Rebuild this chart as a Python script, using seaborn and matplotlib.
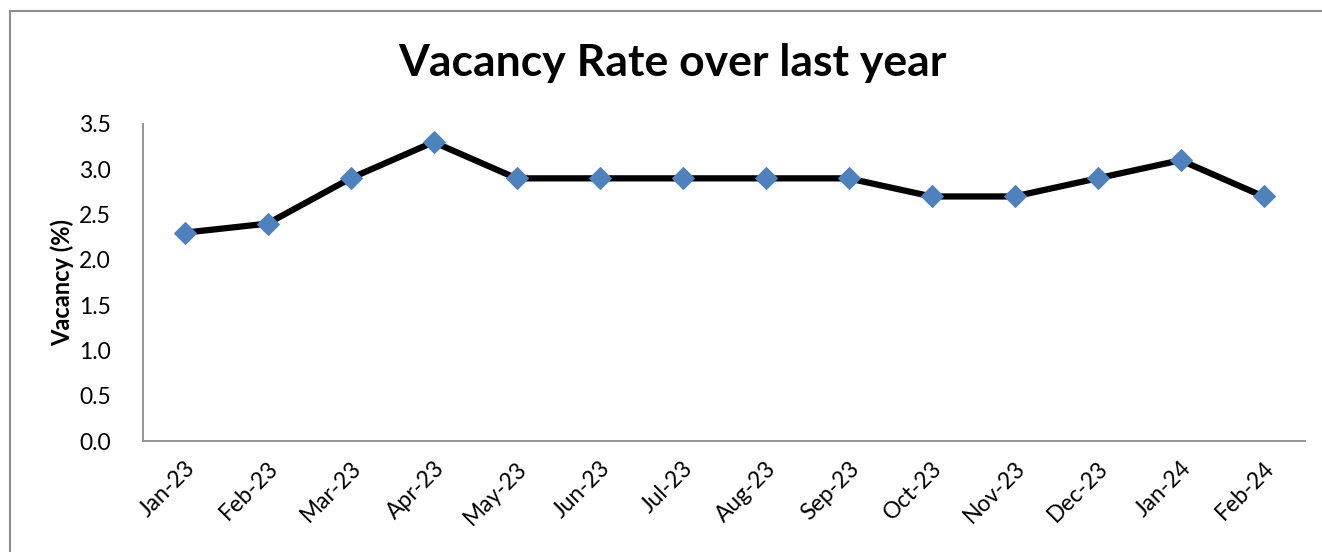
import matplotlib
matplotlib.use("Agg")
import matplotlib.pyplot as plt
import seaborn as sns
import pandas as pd
from matplotlib.patches import Rectangle

months = ["Jan-23", "Feb-23", "Mar-23", "Apr-23", "May-23", "Jun-23", "Jul-23",
          "Aug-23", "Sep-23", "Oct-23", "Nov-23", "Dec-23", "Jan-24", "Feb-24"]
vacancy = [2.3, 2.4, 2.9, 3.3, 2.9, 2.9, 2.9, 2.9, 2.9, 2.7, 2.7, 2.9, 3.1, 2.7]

df = pd.DataFrame({"Month": months, "Vacancy": vacancy})

sns.set_style("white")
plt.rcParams['font.family'] = ['Lato', 'DejaVu Sans']
plt.rcParams['text.color'] = 'black'
plt.rcParams['xtick.color'] = 'black'
plt.rcParams['ytick.color'] = 'black'
plt.rcParams['axes.labelcolor'] = 'black'

fig = plt.figure(figsize=(13.22, 5.52), dpi=100)
ax = fig.add_axes([143 / 1322, 1 - 441 / 552, (1305 - 143) / 1322, (441 - 124) / 552])

sns.lineplot(data=df, x="Month", y="Vacancy", ax=ax, color="black", linewidth=4.5,
             marker="D", markersize=11, markerfacecolor="#4F81BD",
             markeredgecolor="#4F81BD", sort=False)

ax.set_xlim(-0.5, len(months) - 0.5)
ax.set_ylim(0, 3.5)
ax.set_yticks([0, 0.5, 1.0, 1.5, 2.0, 2.5, 3.0, 3.5])
ax.set_yticklabels([f"{v:.1f}" for v in ax.get_yticks()], fontsize=16.5)
ax.set_xticks(range(len(months)))
ax.set_xticklabels(months, rotation=45, ha="right", rotation_mode="anchor", fontsize=16.5)
ax.tick_params(axis="y", length=0, pad=23)
ax.tick_params(axis="x", length=0, pad=12)

for side in ["top", "right"]:
    ax.spines[side].set_visible(False)
for side in ["left", "bottom"]:
    ax.spines[side].set_color("#8c8c8c")
    ax.spines[side].set_linewidth(1.3)

ax.set_xlabel("")
ax.set_ylabel("Vacancy (%)", fontsize=17, fontweight="bold", labelpad=4)

fig.text(672 / 1322, 1 - 63 / 552, "Vacancy Rate over last year", ha="center", va="center",
         fontsize=32, fontweight="bold")

# outer chart border (cropped on right and bottom)
fig.patches.append(Rectangle((10 / 1322, -0.1), 1.2, 1 - 11 / 552 + 0.1,
                             transform=fig.transFigure, fill=False,
                             edgecolor="#8c8c8c", linewidth=1.5))

fig.savefig("out.png", dpi=100)
